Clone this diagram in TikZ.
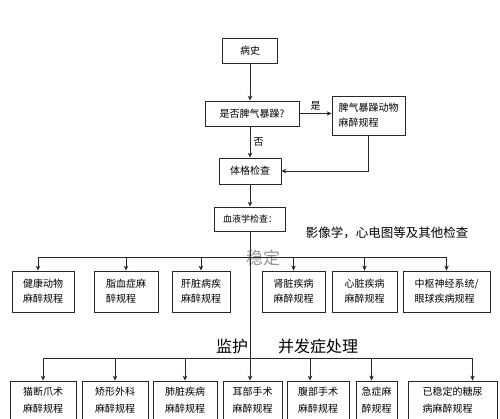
\documentclass[tikz,border=0pt]{standalone}
\usepackage{fontspec}
\newfontfamily\cjk{Noto Sans CJK SC}
\usetikzlibrary{arrows.meta}
\definecolor{linegray}{RGB}{40,40,40}
\definecolor{fadegray}{RGB}{150,150,150}

\begin{document}
\begin{tikzpicture}[x=1pt, y=-1pt,
  font=\cjk\fontsize{10}{15}\selectfont,
  stepbox/.style={draw=linegray, line width=0.8pt, align=left, inner sep=3pt},
  rowone/.style={stepbox, minimum height=41pt},
  rowtwo/.style={stepbox, minimum height=38pt, font=\cjk\fontsize{10}{17}\selectfont},
  arr/.style={-{Stealth[length=5pt,width=4.5pt]}, line width=0.7pt, draw=linegray},
  bar/.style={line width=0.7pt, draw=linegray},
  big/.style={font=\cjk\fontsize{16}{16}\selectfont}
]
\useasboundingbox (0,0) rectangle (500,419);

% Top: history and temper check
\node[stepbox, minimum width=55pt, minimum height=25pt] (history) at (250,50.5) {病史};
\node[stepbox, minimum width=94pt, minimum height=25pt] (temperq) at (252,113.5) {是否脾气暴躁?};
\node[stepbox, minimum width=73pt, minimum height=39pt] (temper) at (368.5,115.5)
  {脾气暴躁动物\\麻醉规程};
\node[stepbox, minimum width=62pt, minimum height=26pt] (exam) at (250,171) {体格检查};
\node[stepbox, minimum width=71pt, minimum height=24pt,
      font=\cjk\fontsize{9}{9}\selectfont] (blood) at (250,219) {血液学检查：};

% Side texts
\node[font=\cjk\fontsize{12.5}{12.5}\selectfont] (imaging) at (387,233) {影像学，心电图等及其他检查};
\node[big, text=fadegray, font=\cjk\fontsize{17}{17}\selectfont] (stable) at (263,258) {稳定};
\node[big] (monitor) at (232,346) {监护};
\node[big] (complic) at (318,346) {并发症处理};

% First row of protocols
\node[rowone, minimum width=62pt] (healthy) at (43,291.5) {健康动物\\麻醉规程};
\node[rowone, minimum width=64pt] (lipid) at (126,291.5) {脂血症麻\\醉规程};
\node[rowone, minimum width=58pt] (liver) at (201,291.5) {肝脏病疾\\麻醉规程};
\node[rowone, minimum width=63pt] (kidney) at (293.5,291.5) {肾脏疾病\\麻醉规程};
\node[rowone, minimum width=65pt] (heart) at (364.5,291.5) {心脏疾病\\麻醉规程};
\node[rowone, minimum width=87pt] (cns) at (446.5,291.5) {中枢神经系统/\\眼球疾病规程};

% Second row of protocols
\node[rowtwo, minimum width=66pt] (declaw) at (43,400) {猫断爪术\\麻醉规程};
\node[rowtwo, minimum width=66pt] (ortho) at (115,400) {矫形外科\\麻醉规程};
\node[rowtwo, minimum width=64pt] (lung) at (185,400) {肺脏疾病\\麻醉规程};
\node[rowtwo, minimum width=59pt] (ear) at (252.5,400) {耳部手术\\麻醉规程};
\node[rowtwo, minimum width=62pt] (abdomen) at (318,400) {腹部手术\\麻醉规程};
\node[rowtwo, minimum width=41pt] (emerg) at (376.5,400) {急症麻\\醉规程};
\node[rowtwo, minimum width=89pt] (diabetes) at (452.5,400) {已稳定的糖尿\\病麻醉规程};

% Main flow
\draw[arr] (history.south) -- (history.south |- temperq.north);
\draw[arr] (temperq.east) -- node[above] (yes) {是} (temperq.east -| temper.west);
\draw[arr] (history.south |- temperq.south) -- node[right] (no) {否} (exam.north);
\draw[arr] (temper.south) |- (exam.east);
\draw[arr] (exam) -- (blood);
\draw[arr] (blood.south) -- (blood.south |- ear.north);

% Split to first row
\coordinate (split1) at (250,257);
\draw[bar] ([xshift=-5pt]healthy.north |- split1) -- (cns.north |- split1);
\draw[arr] ([xshift=-5pt]healthy.north |- split1) -- ([xshift=-5pt]healthy.north);
\draw[arr] (lipid.north |- split1) -- (lipid.north);
\draw[arr] (liver.north |- split1) -- (liver.north);
\draw[arr] (kidney.north |- split1) -- (kidney.north);
\draw[arr] (heart.north |- split1) -- (heart.north);
\draw[arr] (cns.north |- split1) -- (cns.north);

% Split to second row
\coordinate (split2) at (250,358);
\draw[bar] (declaw.north |- split2) -- ([xshift=20pt]diabetes.north |- split2);
\draw[arr] (declaw.north |- split2) -- (declaw.north);
\draw[arr] (ortho.north |- split2) -- (ortho.north);
\draw[arr] (lung.north |- split2) -- (lung.north);
\draw[arr] ([xshift=-8pt]abdomen.north |- split2) -- ([xshift=-8pt]abdomen.north);
\draw[arr] ([xshift=-5pt]emerg.north |- split2) -- ([xshift=-5pt]emerg.north);
\draw[arr] ([xshift=20pt]diabetes.north |- split2) -- ([xshift=20pt]diabetes.north);

\end{tikzpicture}
\end{document}
